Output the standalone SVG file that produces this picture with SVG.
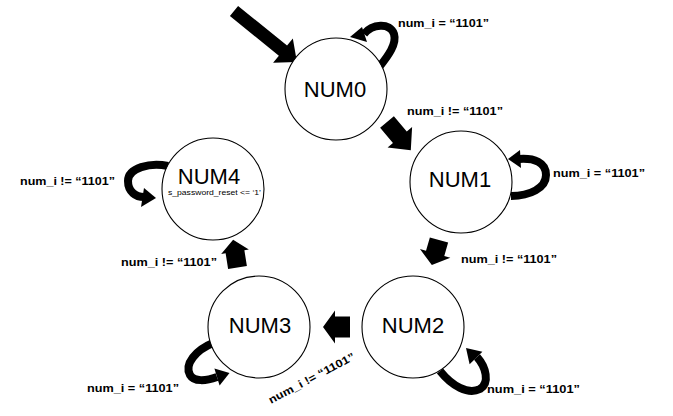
<svg xmlns="http://www.w3.org/2000/svg" width="673" height="416" viewBox="0 0 673 416">
<style>
.node{fill:#fff;stroke:#000;stroke-width:1.1}
.nt{font-family:"Liberation Sans",Arial,sans-serif;font-size:22px;fill:#000;text-anchor:middle}
.sub{font-family:"Liberation Sans",Arial,sans-serif;font-size:7.5px;fill:#000}
.lbl{font-family:"Liberation Sans",Arial,sans-serif;font-size:11px;font-weight:bold;fill:#000}
.arr{fill:#000}
.loop{fill:none;stroke:#000;stroke-width:8}
</style>
<rect width="673" height="416" fill="#fff"/>
<g id="connectors">
  <polygon class="arr" points="0,-6.5 63,-6.5 63,-15.7 81,0 63,15.7 63,6.5 0,6.5" transform="translate(234,11) rotate(39)"/>
  <polygon class="arr" points="0,-9 20,-9 20,-16 37,0 20,16 20,9 0,9" transform="translate(387,122) rotate(50)"/>
  <polygon class="arr" points="0,-9.5 14,-9.5 14,-15.8 26,0 14,15.8 14,9.5 0,9.5" transform="translate(439,240) rotate(106)"/>
  <polygon class="arr" points="0,-10.5 15,-10.5 15,-16.5 27,0 15,16.5 15,10.5 0,10.5" transform="translate(350,327) rotate(180)"/>
  <polygon class="arr" points="0,-9.5 16,-9.5 16,-14 28,0 16,14 16,9.5 0,9.5" transform="translate(237.5,267.5) rotate(-99)"/>
  <path class="loop" d="M 380 66 C 388 56, 397 44, 394 34 C 390 22, 372 24, 364 34"/>
  <polygon class="arr" points="350,37 362,27 367,42"/>
  <path class="loop" d="M 511 196 C 530 196, 546 188, 546 175 C 546 162, 534 158, 519 159"/>
  <polygon class="arr" points="508,159 520,150 521,168"/>
  <path class="loop" d="M 168 166 C 150 162, 128 168, 128 181 C 128 192, 136 197, 144 197"/>
  <polygon class="arr" points="156,198 144,188 141,207"/>
  <path class="loop" d="M 213 343 C 196 350, 184 364, 190 375 C 194 382, 206 381, 217 377"/>
  <polygon class="arr" points="229.5,373 214.4,368.4 219.6,385.6"/>
  <path class="loop" d="M 440 371 C 452 386, 468 395, 480 389 C 490 383, 486 367, 477 357"/>
  <polygon class="arr" points="466,348 482.4,351.7 469.6,364.3"/>
</g>
<g id="labels">
  <text class="lbl" x="398" y="27" textLength="91" lengthAdjust="spacingAndGlyphs">num_i = “1101”</text>
  <text class="lbl" x="407" y="115" textLength="96" lengthAdjust="spacingAndGlyphs">num_i != “1101”</text>
  <text class="lbl" x="553" y="177" textLength="92" lengthAdjust="spacingAndGlyphs">num_i = “1101”</text>
  <text class="lbl" x="461" y="263" textLength="96" lengthAdjust="spacingAndGlyphs">num_i != “1101”</text>
  <text class="lbl" x="487" y="393" textLength="93" lengthAdjust="spacingAndGlyphs">num_i = “1101”</text>
  <text class="lbl" x="87" y="392" textLength="92" lengthAdjust="spacingAndGlyphs">num_i = “1101”</text>
  <text class="lbl" x="121" y="266" textLength="96" lengthAdjust="spacingAndGlyphs">num_i != “1101”</text>
  <text class="lbl" x="20" y="185" textLength="95" lengthAdjust="spacingAndGlyphs">num_i != “1101”</text>
  <text class="lbl" x="0" y="0" textLength="96" lengthAdjust="spacingAndGlyphs" transform="translate(271,404) rotate(-28)">num_i != “1101”</text>
</g>
<g id="NUM0"><circle class="node" cx="336" cy="89" r="51"/><text class="nt" x="335" y="97">NUM0</text></g>
<g id="NUM1"><circle class="node" cx="461" cy="182" r="51"/><text class="nt" x="460" y="187">NUM1</text></g>
<g id="NUM4"><circle class="node" cx="213" cy="189" r="51"/><text class="nt" x="209" y="184">NUM4</text><text class="sub" x="168" y="195" textLength="93" lengthAdjust="spacingAndGlyphs">s_password_reset &lt;= ‘1’</text></g>
<g id="NUM3"><circle class="node" cx="259" cy="327" r="51"/><text class="nt" x="260" y="333">NUM3</text></g>
<g id="NUM2"><circle class="node" cx="413" cy="327" r="51"/><text class="nt" x="413" y="333">NUM2</text></g>
</svg>
